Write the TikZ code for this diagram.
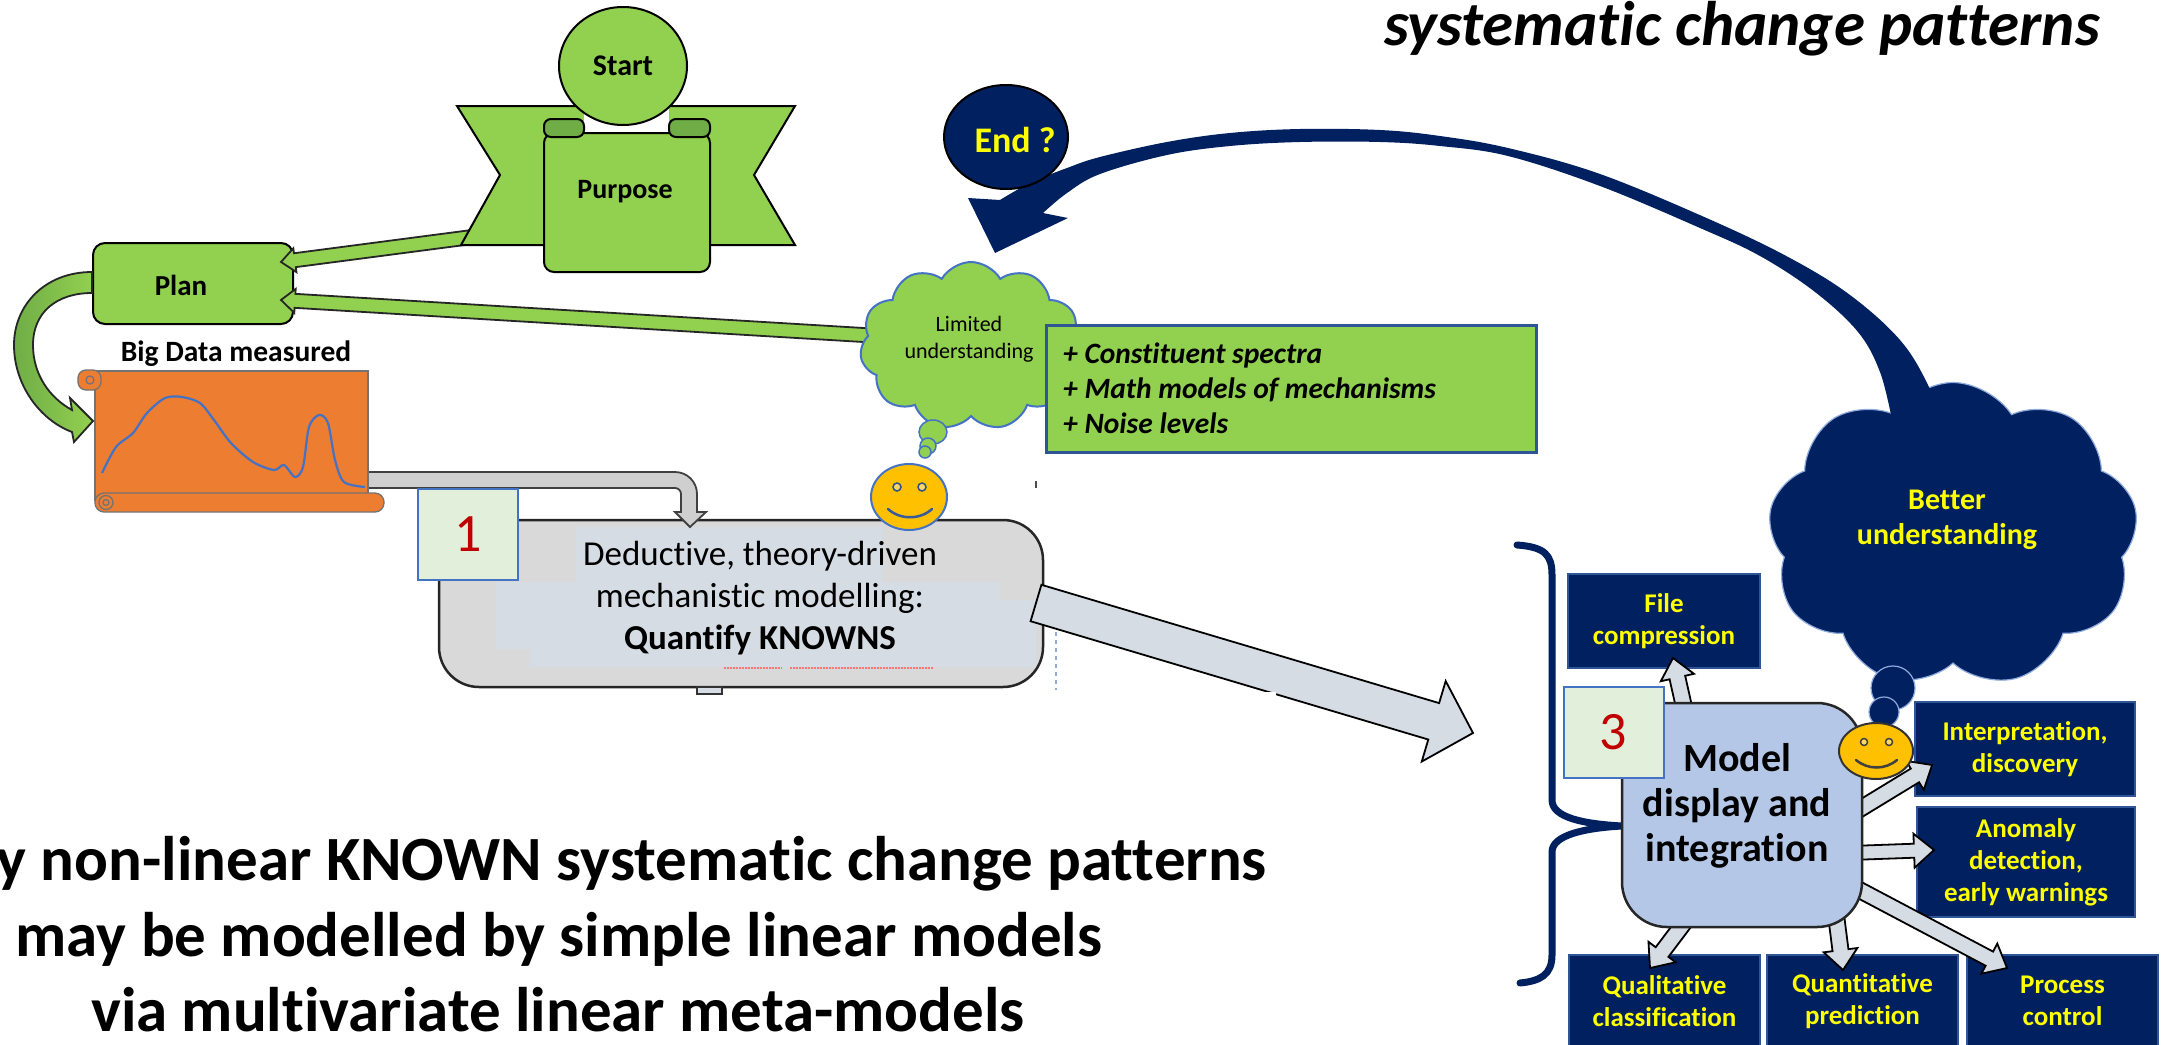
\documentclass[tikz,border=0pt]{standalone}
\usepackage{fontspec}
\setmainfont{Carlito}[Ligatures=NoCommon]
\usetikzlibrary{calc,shapes.geometric,shapes.symbols}

\definecolor{leaf}{HTML}{92D050}
\definecolor{leafdark}{HTML}{70AD47}
\definecolor{navy}{HTML}{002060}
\definecolor{navyedge}{HTML}{2F5597}
\definecolor{skyline}{HTML}{8FAADC}
\definecolor{accent}{HTML}{4472C4}
\definecolor{orng}{HTML}{ED7D31}
\definecolor{mist}{HTML}{D6DCE4}
\definecolor{greybox}{HTML}{D9D9D9}
\definecolor{bandgrey}{HTML}{CFCFCF}
\definecolor{modelblue}{HTML}{B4C7E7}
\definecolor{tagfill}{HTML}{E2EFDA}
\definecolor{tagred}{HTML}{C00000}
\definecolor{sun}{HTML}{FFC000}
\definecolor{lemon}{HTML}{FFFF00}

\newcommand{\fs}[2]{\fontsize{#1}{#2}\selectfont}

% straight block arrow: style, tail, tip, half shaft width, half head width, head length
\newcommand{\barrow}[6]{%
  \coordinate (ba-base) at ($(#3)!#6!(#2)$);
  \draw[#1] ($(#2)!#4!90:(#3)$) -- ($(ba-base)!#4!90:(#3)$) -- ($(ba-base)!#5!90:(#3)$)
    -- (#3) -- ($(ba-base)!#5!-90:(#3)$) -- ($(ba-base)!#4!-90:(#3)$)
    -- ($(#2)!#4!-90:(#3)$) -- cycle;}

\tikzset{
  navybox/.style={draw=navyedge, fill=navy, line width=1.5pt, text=lemon,
    font=\fs{27}{32}\bfseries, align=center, inner sep=0pt},
  tagbox/.style={draw=accent, fill=tagfill, line width=2pt, minimum width=100pt,
    minimum height=91pt, inner sep=0pt, text=tagred, font=\fs{54}{60}},
  mistarrow/.style={fill=mist, draw=black, line width=1.8pt, line join=miter},
  leafarrow/.style={fill=leaf, draw=black!85, line width=1.8pt, line join=miter},
  scrollpart/.style={fill=orng, draw=black!55, line width=1.3pt},
}

\begin{document}
\begin{tikzpicture}[x=1pt, y=-1pt]
\useasboundingbox (0,0) rectangle (2165,1044);
\fill[white] (0,0) rectangle (2165,1044);

% ---------- headline texts ----------
\node[anchor=base east, font=\fs{63}{72}\bfseries\itshape, inner sep=0pt] (title) at (2100,45) {systematic change patterns};
\node[anchor=base east, font=\fs{63}{76}\bfseries, inner sep=0pt] (line1) at (1267,880) {y non-linear KNOWN systematic change patterns};
\node[anchor=base, font=\fs{63}{76}\bfseries, inner sep=0pt] (line2) at (559,956) {may be modelled by simple linear models};
\node[anchor=base, font=\fs{63}{76}\bfseries, inner sep=0pt] (line3) at (558,1031) {via multivariate linear meta-models};

% ---------- Plan box and its incoming arrows ----------
\node[draw=black, fill=leaf, line width=2pt, rounded corners=12pt, minimum width=200pt, minimum height=81pt] (plan) at (193,283.5) {};
\node[font=\fs{29}{35}\bfseries] (plantext) at (181,285) {Plan};

\coordinate (pp-tail) at (472,237);
\coordinate (pp-tip) at (281,262);
\barrow{leafarrow}{pp-tail}{pp-tip}{7pt}{12pt}{14pt}
\coordinate (lp-tail) at (880,336);
\coordinate (lp-tip) at (281,300);
\barrow{leafarrow}{lp-tail}{lp-tip}{7pt}{12pt}{14pt}

% curved arrow from Plan down to the data scroll
\draw[leafarrow, left color=leafdark, right color=leaf]
  (plan.west |- 0,272) .. controls (45,272) and (14,305) .. (14,345)
  .. controls (14,385) and (40,420) .. (72,432) -- (74,442) -- (93,421) -- (70,398) -- (72,410)
  .. controls (50,398) and (33,375) .. (33,345)
  .. controls (33,312) and (57,293) .. (plan.west |- 0,293) -- cycle;

% ---------- Start / Purpose ribbon ----------
\draw[fill=leaf, draw=black, line width=2pt, line join=miter]
  (457,106) -- (795,106) -- (754,175) -- (795,245) -- (461,245) -- (500,175) -- cycle;
\fill[white] (584,100) rectangle (669,133);
\draw[fill=leaf, draw=black, line width=2pt, rounded corners=10pt] (544,133) rectangle (710,272);
\draw[fill=leafdark, draw=black, line width=2pt, rounded corners=7pt] (544,119) rectangle (584,137);
\draw[fill=leafdark, draw=black, line width=2pt, rounded corners=7pt] (669,119) rectangle (710,137);
\node[font=\fs{28}{34}\bfseries] (purpose) at (625,192) {Purpose};
\node[ellipse, draw=black, fill=leaf, line width=2pt, minimum width=128pt, minimum height=118pt,
  inner sep=0pt, font=\fs{30}{36}\bfseries] (start) at (623,66) {Start};

% ---------- Box 1 ----------
\node[draw=black!85, fill=greybox, rounded corners=40pt, line width=2.5pt,
  minimum width=604pt, minimum height=167pt] (box1) at (741,603.5) {};
\fill[mist] (576,527) -- (882,527) -- (882,582) -- (1000,582) -- (1000,600) -- (1036,600)
  -- (1036,667) -- (529,667) -- (529,649) -- (496,649) -- (496,582) -- (576,582) -- cycle;
\node[font=\fs{35}{42}, align=center] (box1text) at (760,598)
  {Deductive, theory-driven\\mechanistic modelling:\\\textbf{Quantify KNOWNS}};
\draw[red!55, line width=1.2pt, dash pattern=on 2pt off 1pt] (724,668) -- (782,668) (790,668) -- (933,668);
\draw[fill=mist, draw=black!80, line width=1.2pt] (697,687) rectangle (722,694);
\draw[skyline, line width=1.5pt, dash pattern=on 4pt off 4pt] (1056,632) -- (1056,690);
\draw[black!70, line width=1.5pt] (1036,481) -- (1036,488);

% grey bent arrow from the scroll into box 1
\coordinate (scroll-out) at (360,480);
\coordinate (box1-in) at (690,527);
\draw[fill=bandgrey, draw=black!75, line width=1.8pt, line join=miter]
  (scroll-out |- 0,472) -- (675,472) arc[start angle=90, end angle=0, radius=22pt]
  -- (697,512) -- (706,512) -- (box1-in) -- (675,512) -- (681,512) -- (681,494)
  arc[start angle=0, end angle=90, radius=6pt] -- (scroll-out |- 0,488) -- cycle;

\node[tagbox] (tag1) at (468,534.5) {1};

% ---------- data scroll ----------
\node[font=\fs{29.5}{35}\bfseries] (bdlabel) at (236,354) {Big Data measured};
\draw[scrollpart] (95,371) rectangle (368,500);
\draw[scrollpart, rounded corners=8pt] (78,370) rectangle (101,390);
\draw[scrollpart] (90,380) circle (4pt);
\draw[scrollpart, rounded corners=9pt] (95,493) rectangle (384,512);
\draw[scrollpart] (106,502.5) circle (7pt);
\draw[scrollpart] (106,502.5) circle (3pt);
\draw[accent, line width=2.2pt, line join=round] plot[smooth, tension=0.5] coordinates {
  (102,473) (116,447) (133,433) (147,413) (165,398) (182,397) (200,403) (214,420)
  (231,443) (253,462) (274,470) (284,465) (295,477) (303,467) (309,427) (319,415)
  (328,423) (335,460) (344,482) (365,487)};

% ---------- Limited understanding cloud ----------
\node[cloud, cloud puffs=11, cloud puff arc=120, draw=accent, fill=leaf, line width=2pt,
  minimum width=222pt, minimum height=168pt, cloud ignores aspect] (limcloud) at (971,346) {};
\node[font=\fs{22}{27}, align=center] (limtext) at (969,339) {Limited\\understanding};
\draw[draw=accent, fill=leaf, line width=1.5pt] (933,432) ellipse (14pt and 12pt);
\draw[draw=accent, fill=leaf, line width=1.5pt] (928,446) circle (8pt);
\draw[draw=accent, fill=leaf, line width=1.5pt] (925,452) circle (6pt);

\node[draw=navyedge, fill=leaf, line width=3pt, minimum width=490pt, minimum height=127pt] (facts) at (1291,388.5) {};
\node[anchor=west, font=\fs{29.5}{35}\bfseries\itshape, align=left, inner sep=0pt] (factstext) at (1063,388)
  {+ Constituent spectra\\+ Math models of mechanisms\\+ Noise levels};

% smiley on box 1
\draw[fill=sun, draw=accent, line width=2pt] (909,497) ellipse (38pt and 33pt);
\draw[accent!70!black, fill=sun!60!white, line width=1.5pt] (897,487) circle (4pt) (922,487) circle (4pt);
\draw[accent!80!black, line width=2.5pt, line cap=round] (888,509) .. controls (900,520) and (920,520) .. (932,509);

% block arrow from box 1 to the model box
\coordinate (a1-tail) at (1036,603);
\coordinate (a1-tip) at (1473,733);
\barrow{mistarrow}{a1-tail}{a1-tip}{19pt}{42pt}{41pt}
\fill[white] (1254,692) rectangle (1276,700);

% ---------- Better understanding cloud and return arrow ----------
\node[cloud, cloud puffs=9, cloud puff arc=115, draw=skyline, fill=navy, line width=1.2pt,
  minimum width=370pt, minimum height=305pt, cloud ignores aspect] (better) at (1953,535) {};
\node[font=\fs{30}{35}\bfseries, text=lemon, align=center] (bettertext) at (1947,520) {Better\\understanding};
\draw[draw=skyline, fill=navy, line width=1.2pt] (1893,688) circle (22pt);
\draw[draw=skyline, fill=navy, line width=1.2pt] (1884,712) circle (15pt);

\fill[navy] (1043,213) -- (1068,218) -- (995,253) -- (968,198) -- (1000,200)
  -- plot[smooth, tension=0.6] coordinates {(1000,200) (1030,183) (1067,168) (1100,157)
     (1167,142) (1230,133) (1300,129) (1380,130) (1440,136) (1508,148) (1600,174)
     (1711,220) (1790,258) (1850,295) (1900,340) (1928,385) (1942,425)}
  -- plot[smooth, tension=0.6] coordinates {(1892,420) (1880,372) (1858,332) (1815,292)
     (1760,256) (1700,228) (1600,186) (1508,156) (1440,146) (1380,142) (1300,142)
     (1230,146) (1167,155) (1100,174) (1067,193) (1043,213)}
  -- cycle;

\node[ellipse, draw=black, fill=navy, line width=2pt, minimum width=124pt, minimum height=104pt] (endc) at (1006,137) {};
\node[text=lemon, font=\fs{36}{40}\bfseries] (endtext) at (1015,140) {End ?};

% ---------- outcome boxes ----------
\node[navybox, minimum width=192pt, minimum height=94pt] (filec) at (1664,621) {File\\compression};
\node[navybox, minimum width=220pt, minimum height=94pt] (interp) at (2025,749) {Interpretation,\\discovery};
\node[navybox, minimum width=218pt, minimum height=110pt] (anomaly) at (2026,862) {Anomaly\\detection,\\early warnings};
\node[navybox, minimum width=191pt, minimum height=92pt] (qualc) at (1664.5,1001) {Qualitative\\classification};
\node[navybox, minimum width=191pt, minimum height=92pt] (quantp) at (1862.5,1001) {Quantitative\\prediction};
\node[navybox, minimum width=191pt, minimum height=92pt] (procc) at (2062.5,1001) {Process\\control};

% arrows out of the model box
\coordinate (m-file) at (1686,716);   \coordinate (t-file) at (1673,658);
\coordinate (m-interp) at (1850,815); \coordinate (t-interp) at (1932,765);
\coordinate (m-anom) at (1850,853);   \coordinate (t-anom) at (1934,850);
\coordinate (m-proc) at (1850,885);   \coordinate (t-proc) at (2007,968);
\coordinate (m-quant) at (1836,915);  \coordinate (t-quant) at (1843,970);
\coordinate (m-qual) at (1690,915);   \coordinate (t-qual) at (1650,968);
\barrow{mistarrow}{m-file}{t-file}{8pt}{17pt}{20pt}
\barrow{mistarrow}{m-interp}{t-interp}{8pt}{17pt}{20pt}
\barrow{mistarrow}{m-anom}{t-anom}{7pt}{17pt}{20pt}
\barrow{mistarrow}{m-proc}{t-proc}{8pt}{17pt}{20pt}
\barrow{mistarrow}{m-quant}{t-quant}{8pt}{17pt}{20pt}
\barrow{mistarrow}{m-qual}{t-qual}{8pt}{17pt}{20pt}

% brace gathering the model box
\draw[navy, line width=7pt, line cap=round, line join=round]
  (1517,545) .. controls (1545,547) and (1552,555) .. (1552,575) -- (1552,800)
  .. controls (1552,818) and (1585,824) .. (1622,826)
  .. controls (1585,828) and (1552,835) .. (1552,852) -- (1552,955)
  .. controls (1552,975) and (1540,981) .. (1520,983);

\node[draw=black!85, fill=modelblue, line width=2.5pt, rounded corners=45pt,
  minimum width=240pt, minimum height=224pt] (model) at (1742,815) {};
\node[font=\fs{40}{45}\bfseries, align=center] (modeltext) at (1737,806) {Model\\display and\\integration};
\node[tagbox] (tag3) at (1613.5,732) {3};

% smiley on the model box
\draw[fill=sun, draw=black!80, line width=2pt] (1876,751) ellipse (37pt and 28pt);
\draw[black!75, fill=sun!60!white, line width=1.5pt] (1864,742) circle (3.5pt) (1889,742) circle (3.5pt);
\draw[black!75, line width=2.5pt, line cap=round] (1856,760) .. controls (1868,770) and (1885,770) .. (1897,760);

\end{tikzpicture}
\end{document}
